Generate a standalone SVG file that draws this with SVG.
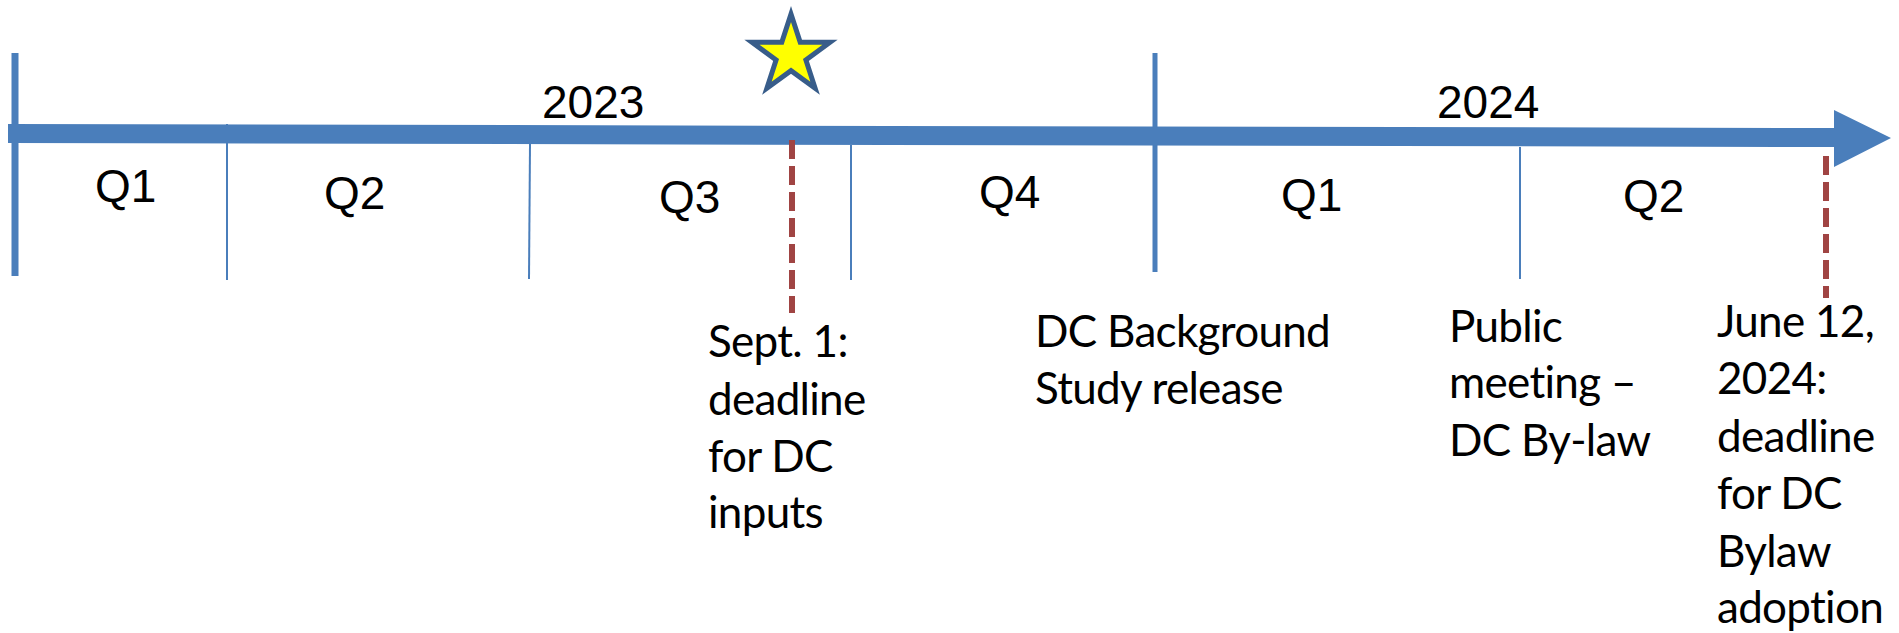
<svg xmlns="http://www.w3.org/2000/svg" width="1899" height="633" viewBox="0 0 1899 633">
<style>
.bar{fill:#4A7EBB}
.tick{stroke:#4A7EBB;stroke-width:2}
.dash{stroke:#A04443;stroke-width:6;stroke-dasharray:19 7;fill:none}
.q{font-family:"Liberation Sans",Arial,sans-serif;font-size:46px;fill:#000}
.lbl{font-family:Lato,"Liberation Sans",sans-serif;font-size:44px;letter-spacing:-0.7px;fill:#000}
</style>
<rect width="1899" height="633" fill="#fff"/>
<g id="axis">
<rect class="bar" x="11.5" y="53" width="7" height="223"/>
<rect class="bar" x="1152.5" y="53" width="5" height="219"/>
<line class="tick" x1="227" y1="124" x2="227" y2="280"/>
<line class="tick" x1="530" y1="144" x2="529" y2="279"/>
<line class="tick" x1="851" y1="145" x2="851" y2="280"/>
<line class="tick" x1="1520" y1="147" x2="1520" y2="279"/>
<polygon class="bar" points="8,124 1834,128 1834,110 1891,138 1834,167 1834,147 8,143"/>
</g>
<g id="years">
<text class="q" x="542" y="118">2023</text>
<text class="q" x="1437" y="118">2024</text>
</g>
<g id="quarters">
<text class="q" x="95" y="202">Q1</text>
<text class="q" x="324" y="209">Q2</text>
<text class="q" x="659" y="213">Q3</text>
<text class="q" x="979" y="208">Q4</text>
<text class="q" x="1281" y="211">Q1</text>
<text class="q" x="1623" y="212">Q2</text>
</g>
<g id="star">
<polygon points="791,14 800.2,42.3 830,42.3 805.9,59.9 815.1,88.2 791,70.7 766.9,88.2 776.1,59.9 752,42.3 781.8,42.3" fill="#FFFF00" stroke="#385D8A" stroke-width="5" stroke-linejoin="miter" stroke-miterlimit="10"/>
</g>
<g id="connectors">
<line class="dash" x1="792" y1="140" x2="792" y2="313"/>
<line class="dash" x1="1826" y1="156" x2="1826" y2="298"/>
</g>
<g id="sept1">
<text class="lbl" x="708" y="357">Sept. 1:</text>
<text class="lbl" x="708" y="415">deadline</text>
<text class="lbl" x="708" y="472">for DC</text>
<text class="lbl" x="708" y="528">inputs</text>
</g>
<g id="background-study">
<text class="lbl" x="1035" y="347">DC Background</text>
<text class="lbl" x="1035" y="404">Study release</text>
</g>
<g id="public-meeting">
<text class="lbl" x="1449" y="342">Public</text>
<text class="lbl" x="1449" y="398">meeting –</text>
<text class="lbl" x="1449" y="456">DC By-law</text>
</g>
<g id="june12">
<text class="lbl" x="1717" y="337">June 12,</text>
<text class="lbl" x="1717" y="394">2024:</text>
<text class="lbl" x="1717" y="452">deadline</text>
<text class="lbl" x="1717" y="509">for DC</text>
<text class="lbl" x="1717" y="567">Bylaw</text>
<text class="lbl" x="1717" y="623">adoption</text>
</g>
</svg>
